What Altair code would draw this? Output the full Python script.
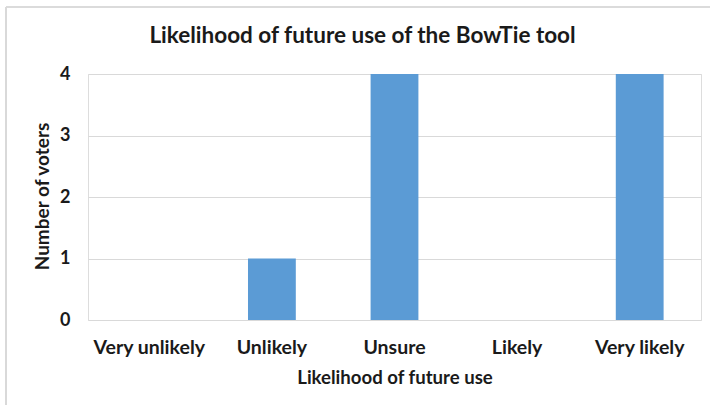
import altair as alt
import pandas as pd

# Survey responses: how likely respondents are to use the BowTie tool again
categories = ["Very unlikely", "Unlikely", "Unsure", "Likely", "Very likely"]
voters = [0, 1, 4, 0, 4]
y_ticks = [0, 1, 2, 3, 4]

df = pd.DataFrame({"likelihood": categories, "voters": voters})

FONT = "Lato"
TEXT = "#1a1a1a"
GRID = "#d9d9d9"
BAR = "#5b9bd5"

W, H = 613, 246
LEFT, TOP = 88, 74

bars = alt.Chart(df).mark_bar(color=BAR).encode(
    x=alt.X(
        "likelihood:N",
        sort=categories,
        scale=alt.Scale(paddingInner=0.61, paddingOuter=0.305),
        axis=alt.Axis(
            title="Likelihood of future use",
            labelAngle=0,
            labelFont=FONT,
            labelFontSize=19.5,
            labelFontWeight="bold",
            labelColor=TEXT,
            labelBaseline="alphabetic",
            labelPadding=33,
            ticks=False,
            tickSize=0,
            domain=False,
            grid=False,
            titleFont=FONT,
            titleFontSize=18.6,
            titleFontWeight="bold",
            titleColor=TEXT,
            titleBaseline="alphabetic",
            titleAlign="center",
            titleX=W / 2,
            titleY=63,
        ),
    ),
    y=alt.Y(
        "voters:Q",
        scale=alt.Scale(domain=[0, 4], nice=False),
        axis=alt.Axis(
            title="Number of voters",
            values=y_ticks,
            format="d",
            labelFont=FONT,
            labelFontSize=18,
            labelFontWeight="bold",
            labelColor=TEXT,
            labelPadding=18,
            ticks=False,
            tickSize=0,
            domain=False,
            grid=True,
            gridColor=GRID,
            gridWidth=1,
            titleFont=FONT,
            titleFontSize=19,
            titleFontWeight="bold",
            titleColor=TEXT,
            titleAngle=270,
            titleAlign="center",
            titleBaseline="alphabetic",
            titleX=-39.7,
            titleY=122,
        ),
    ),
)

# light frame around the chart area (top and left edges)
frame_top = alt.Chart(df).mark_rule(color=GRID, strokeWidth=1.2).encode(
    x=alt.value(6 - LEFT), x2=alt.value(710 - LEFT + 20), y=alt.value(7 - TOP)
)
frame_left = alt.Chart(df).mark_rule(color=GRID, strokeWidth=1.2).encode(
    x=alt.value(6 - LEFT), y=alt.value(7 - TOP), y2=alt.value(405 - TOP + 20)
)

chart = (
    alt.layer(frame_top, frame_left, bars)
    .properties(
        width=W,
        height=H,
        autosize=alt.AutoSizeParams(type="none"),
        padding={"left": LEFT, "top": TOP, "right": 710 - LEFT - W, "bottom": 405 - TOP - H},
        # the title sits just inside the frame's top edge
        title=alt.TitleParams(
            "Likelihood of future use of the BowTie tool",
            font=FONT,
            fontSize=22.5,
            fontWeight="bold",
            color=TEXT,
            anchor="middle",
            frame="group",
            baseline="alphabetic",
            offset=0,
            dy=59,
            dx=-32,
        ),
    )
    .configure_view(stroke=None)
    .configure(background="white")
)

chart.save("out.html", embed_options={"renderer": "svg", "actions": False})
